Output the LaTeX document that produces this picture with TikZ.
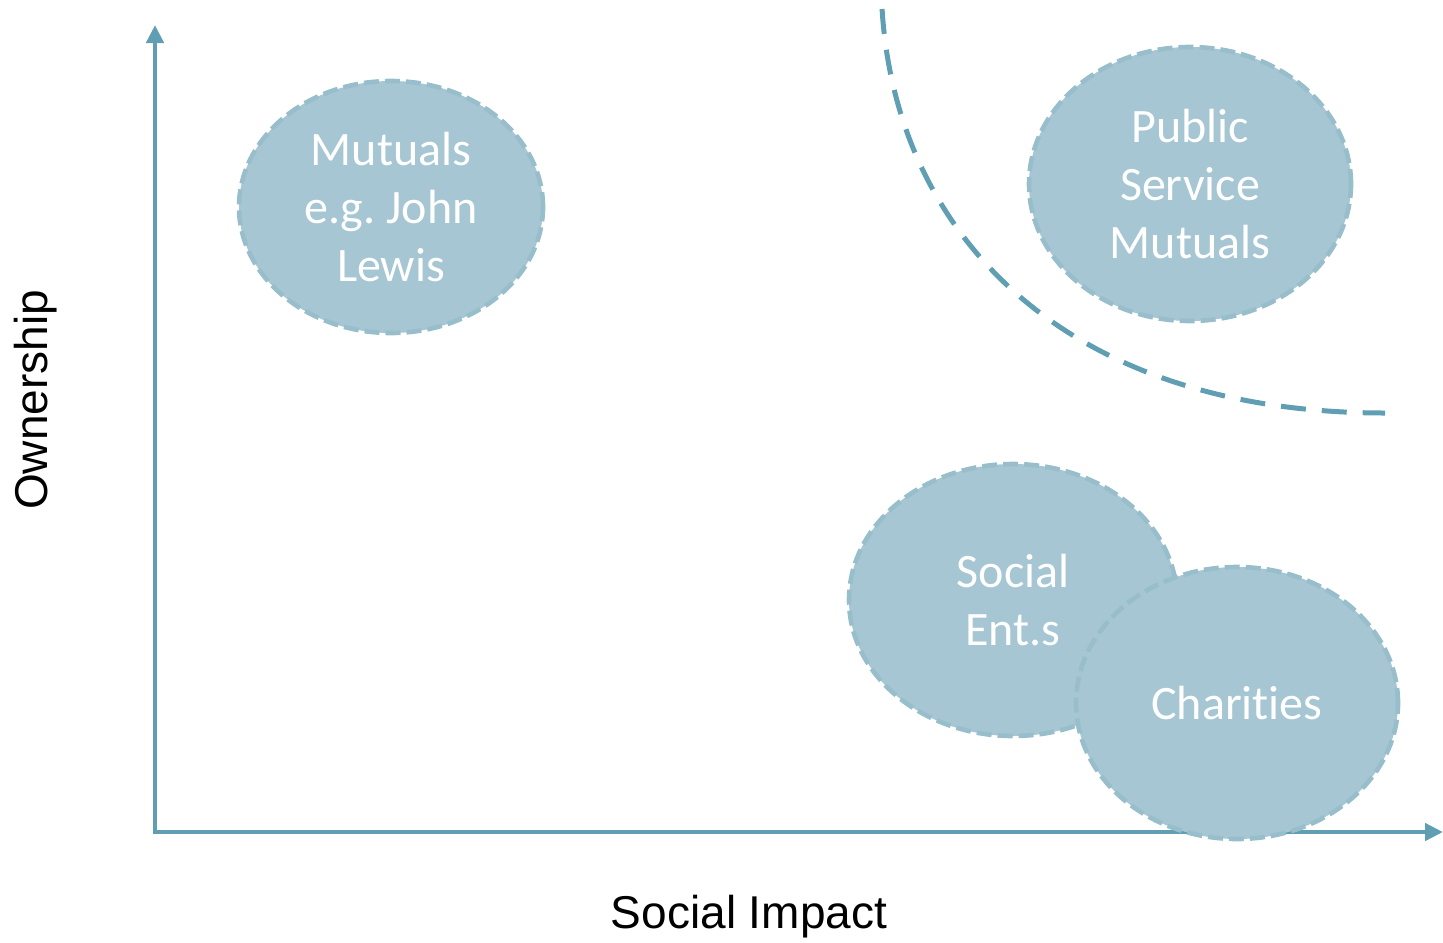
\documentclass[tikz,border=0pt]{standalone}
\usepackage{fontspec}
\setmainfont{Carlito}[Ligatures=NoCommon]
\newfontfamily\arialfont{Liberation Sans}
\usetikzlibrary{shapes.geometric,arrows.meta}
\definecolor{axiscol}{HTML}{5F9EB3}
\definecolor{blobfill}{HTML}{A5C6D2}
\definecolor{blobline}{HTML}{98BECC}
\tikzset{
  axisline/.style={draw=axiscol, line width=2.2pt, -{Triangle[width=8.5pt,length=9pt]}},
  blob/.style={ellipse, fill=blobfill, draw=blobline, line width=2.3pt,
    dash pattern=on 7.5pt off 3pt, text=white, align=center, inner sep=0pt,
    font=\fontsize{24}{29}\selectfont},
  axislabel/.style={font=\arialfont\fontsize{23}{27}\selectfont, text=black},
  divider/.style={draw=axiscol, line width=2.5pt, dash pattern=on 12.5pt off 8pt}
}
\frenchspacing
\begin{document}
\begin{tikzpicture}[x=0.5pt,y=-0.5pt]
\useasboundingbox (0,0) rectangle (1443,942);
\coordinate (o) at (155,832);
\coordinate (ytop) at (155,25);
\coordinate (xend) at (1443,832);
\draw[axisline] ([yshift=-1pt]o) -- (ytop);
\draw[axisline] (o) -- (xend);
\node[axislabel] (xl) at (749,917) {Social Impact};
\node[axislabel, rotate=90] (yl) at (36,400) {Ownership};
\coordinate (c0) at (882,8);
\coordinate (c3) at (1385,413);
\draw[divider, dash phase=20pt] (c0) .. controls (895,230) and (1060,413) .. (c3);
\node[blob, minimum width=152pt, minimum height=126pt] (mut) at (391,207) {Mutuals\\e.g. John\\Lewis};
\node[blob, minimum width=161pt, minimum height=137pt] (psm) at (1190,184) {Public\\Service\\Mutuals};
\node[blob, minimum width=164pt, minimum height=136pt] (soc) at (1013,600) {Social\\Ent.s};
\node[blob, minimum width=161pt, minimum height=136pt] (cha) at (1237,703) {Charities};
\end{tikzpicture}
\end{document}
